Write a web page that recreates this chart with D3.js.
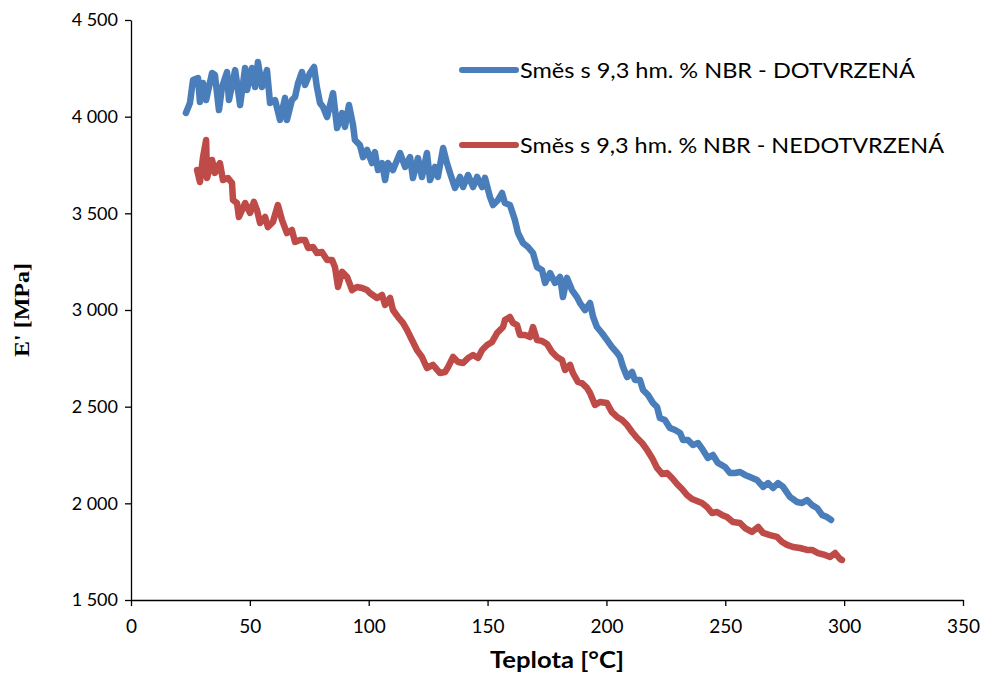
<!DOCTYPE html>
<html>
<head>
<meta charset="utf-8">
<script src="https://cdn.jsdelivr.net/npm/d3@7"></script>
<style>
  html, body { margin: 0; padding: 0; background: #fff; }
  svg { display: block; }
  text { font-family: Lato, "Open Sans", sans-serif; fill: #000; }
</style>
</head>
<body>
<svg id="chart" width="989" height="675"></svg>
<script>
// ---------- DATA ----------
const seriesNames = ["Směs s 9,3 hm. % NBR - DOTVRZENÁ", "Směs s 9,3 hm. % NBR - NEDOTVRZENÁ"];
const seriesColors = ["#4A7EBB", "#BE4B48"];

const blueT = [23.1,24.8,26.1,28.2,29.0,30.3,31.6,34.1,35.3,37.0,38.3,40.4,41.2,43.8,45.9,48.0,48.8,50.9,52.2,53.4,55.1,57.2,58.5,60.6,62.7,64.8,65.6,67.7,69.0,70.3,71.9,73.2,75.3,77.0,78.2,79.5,80.8,82.5,85.0,86.7,88.8,90.0,91.7,93.4,94.2,96.3,97.6,99.3,101.4,102.6,103.9,105.6,106.9,108.1,110.2,113.2,115.3,117.4,118.6,120.7,122.4,124.5,125.8,127.9,129.1,131.3,132.9,134.2,136.3,138.4,139.7,141.8,143.9,145.6,147.7,148.9,151.0,152.3,154.4,156.1,157.3,159.4,161.5,162.8,164.9,167.0,169.1,170.8,172.9,174.2,176.3,178.4,180.5,181.7,183.4,185.5,187.6,188.9,191.0,193.1,194.4,196.0,198.1,200.2,202.3,204.5,205.7,207.0,208.7,210.8,212.0,214.1,215.4,217.5,219.6,221.3,222.5,224.6,226.7,228.9,231.0,232.2,234.3,236.4,238.5,240.6,242.7,244.8,246.9,249.9,252.0,254.1,256.2,258.3,260.4,263.3,265.9,268.0,270.1,272.2,274.3,277.2,280.2,282.3,284.4,286.5,288.6,290.7,292.8,294.5];
const blueE = [4019,4071,4190,4200,4076,4174,4086,4226,4216,4034,4153,4231,4086,4241,4060,4252,4138,4252,4153,4283,4153,4241,4071,4086,3983,4097,3983,4086,4102,4174,4231,4164,4226,4257,4153,4071,4050,3998,4122,3941,4019,3947,4060,3957,3879,3853,3791,3828,3760,3817,3724,3760,3672,3760,3724,3812,3740,3791,3683,3786,3688,3812,3672,3740,3688,3838,3760,3709,3631,3688,3636,3698,3636,3688,3636,3683,3585,3543,3569,3605,3553,3543,3466,3398,3347,3326,3295,3222,3207,3140,3191,3140,3171,3067,3166,3103,3067,3036,3000,3036,2964,2912,2881,2845,2809,2778,2757,2705,2653,2679,2638,2638,2586,2560,2519,2498,2441,2431,2390,2379,2364,2328,2328,2302,2312,2276,2235,2250,2209,2188,2157,2157,2162,2147,2136,2121,2085,2105,2079,2105,2085,2033,2007,2002,2017,1991,1976,1940,1929,1914];

const redT = [27.8,29.0,30.3,31.6,32.0,34.1,35.3,37.4,38.7,40.8,42.5,42.9,44.6,45.4,48.0,50.1,51.7,53.0,54.3,56.4,57.6,59.7,61.8,63.5,65.6,67.7,69.0,71.1,73.2,74.5,76.6,78.2,80.3,82.5,84.6,85.8,87.1,88.8,90.9,93.0,95.1,97.2,99.3,100.5,103.5,105.6,106.9,109.0,110.2,112.3,114.4,116.1,118.2,120.3,122.4,124.5,127.0,130.0,132.1,133.4,135.5,137.6,139.7,141.8,143.9,146.0,147.7,149.8,151.9,154.0,156.5,157.3,159.4,160.7,162.4,163.6,165.8,167.9,169.1,170.8,172.9,175.0,177.1,179.2,181.3,182.6,184.7,185.9,188.0,189.7,191.8,193.1,195.2,197.3,200.2,202.3,204.5,206.6,208.7,210.8,212.9,215.0,217.1,219.2,221.3,223.4,225.5,227.6,229.7,231.8,233.9,236.0,238.1,240.2,242.3,244.4,246.5,248.6,250.7,253.2,256.2,258.3,261.2,263.8,265.9,268.8,271.8,273.9,276.0,278.5,281.4,284.4,286.5,289.0,291.9,294.1,296.2,298.3,299.1];
const redE = [3724,3662,3791,3879,3683,3776,3709,3760,3672,3683,3657,3569,3553,3481,3553,3502,3559,3517,3450,3481,3429,3455,3543,3466,3398,3414,3352,3362,3362,3321,3326,3295,3300,3259,3259,3222,3119,3197,3171,3103,3119,3114,3103,3088,3062,3078,3026,3062,3000,2964,2933,2897,2845,2793,2757,2700,2716,2674,2679,2705,2757,2731,2726,2752,2767,2752,2793,2819,2835,2881,2912,2948,2964,2933,2922,2871,2871,2860,2912,2845,2840,2824,2783,2757,2741,2690,2716,2674,2628,2622,2597,2571,2509,2524,2519,2472,2447,2431,2405,2369,2338,2312,2276,2235,2183,2152,2157,2131,2100,2074,2043,2022,2012,2002,1981,1950,1955,1940,1929,1903,1898,1872,1852,1878,1847,1836,1826,1800,1785,1774,1769,1759,1759,1743,1733,1723,1743,1712,1707];

const xTicks = [0, 50, 100, 150, 200, 250, 300, 350];
const yTicks = [1500, 2000, 2500, 3000, 3500, 4000, 4500];
const xTitle = "Teplota [°C]";
const yTitle = "E' [MPa]";

// ---------- LAYOUT ----------
const svg = d3.select("#chart");
const M = { left: 131, top: 20, right: 963, bottom: 600 };

const x = d3.scaleLinear().domain([0, 350]).range([M.left, M.right]);
const y = d3.scaleLinear().domain([1500, 4500]).range([M.bottom, M.top]);

const loc = d3.formatLocale({ decimal: ",", thousands: " ", grouping: [3], currency: ["", ""] });
const fmt = loc.format(",d");

// Axes
const xAxis = svg.append("g")
  .attr("transform", `translate(0,${M.bottom})`)
  .call(d3.axisBottom(x).tickValues(xTicks).tickSize(6).tickPadding(14).tickSizeOuter(0));
const yAxis = svg.append("g")
  .attr("transform", `translate(${M.left},0)`)
  .call(d3.axisLeft(y).tickValues(yTicks).tickFormat(fmt).tickSize(6).tickPadding(7).tickSizeOuter(0));

[xAxis, yAxis].forEach(g => {
  g.select(".domain").attr("stroke", "#000").attr("stroke-width", 1.3);
  g.selectAll(".tick line").attr("stroke", "#000").attr("stroke-width", 1.3);
  g.selectAll(".tick text").attr("fill", "#000").style("font-family", "Lato, sans-serif");
});
yAxis.selectAll(".tick text").style("font-size", "18px");
xAxis.selectAll(".tick text").style("font-size", "19px");

// Axis titles
svg.append("text")
  .attr("x", 557).attr("y", 668)
  .attr("text-anchor", "middle")
  .attr("textLength", 134).attr("lengthAdjust", "spacingAndGlyphs")
  .style("font-weight", "bold").style("font-size", "22px")
  .text(xTitle);

svg.append("text")
  .attr("transform", "translate(29,310) rotate(-90)")
  .attr("text-anchor", "middle")
  .attr("textLength", 94).attr("lengthAdjust", "spacingAndGlyphs")
  .style("font-family", "'Liberation Serif', serif")
  .style("font-weight", "bold").style("font-size", "22px")
  .text(yTitle);

// Lines
const line = d3.line().x(d => x(d[0])).y(d => y(d[1]));
const blue = blueT.map((t, i) => [t, blueE[i]]);
const red = redT.map((t, i) => [t, redE[i]]);

[blue, red].forEach((data, i) => {
  svg.append("path")
    .datum(data)
    .attr("fill", "none")
    .attr("stroke", seriesColors[i])
    .attr("stroke-width", 6.5)
    .attr("stroke-linejoin", "round")
    .attr("stroke-linecap", "round")
    .attr("d", line);
});

// Legend
const legY = [70, 145];
const legLen = [395, 424];
seriesNames.forEach((name, i) => {
  const g = svg.append("g").attr("transform", `translate(462,${legY[i]})`);
  g.append("line").attr("x1", 0).attr("x2", 54).attr("y1", 0).attr("y2", 0)
    .attr("stroke", seriesColors[i]).attr("stroke-width", 6).attr("stroke-linecap", "round");
  g.append("text").attr("x", 58).attr("y", 1).attr("dy", "0.35em")
    .attr("textLength", legLen[i]).attr("lengthAdjust", "spacingAndGlyphs")
    .style("font-size", "21px").text(name);
});
</script>
</body>
</html>
